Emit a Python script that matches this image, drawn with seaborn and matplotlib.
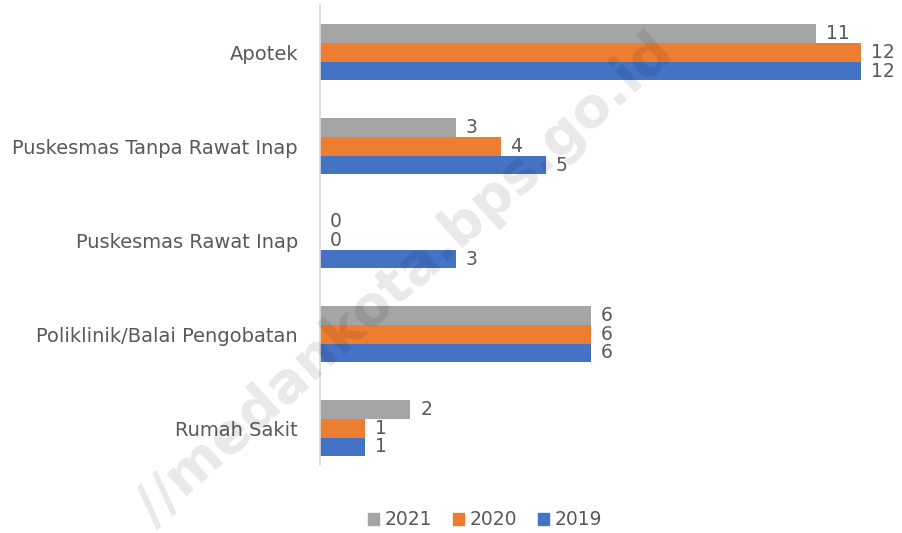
import pandas as pd
import matplotlib.pyplot as plt
import seaborn as sns

categories = ['Apotek', 'Puskesmas Tanpa Rawat Inap', 'Puskesmas Rawat Inap',
              'Poliklinik/Balai Pengobatan', 'Rumah Sakit']
years = ['2021', '2020', '2019']
val_2021 = [11, 3, 0, 6, 2]
val_2020 = [12, 4, 0, 6, 1]
val_2019 = [12, 5, 3, 6, 1]
colors = ['#A5A5A5', '#ED7D31', '#4472C4']

df = pd.DataFrame({
    'Fasilitas': categories * 3,
    'Tahun': [y for y in years for _ in categories],
    'Jumlah': val_2021 + val_2020 + val_2019,
})

sns.set_theme(style='white')
plt.rcParams['font.family'] = ['DejaVu Sans']
txt = '#595959'

fig = plt.figure(figsize=(9.02, 5.33), dpi=100)
ax = fig.add_axes([0.355, 0.128, 0.60, 0.862])

sns.barplot(data=df, y='Fasilitas', x='Jumlah', hue='Tahun', hue_order=years,
            palette=colors, width=0.6, orient='h', ax=ax, legend=False,
            saturation=1, errorbar=None, linewidth=0)

for cont in ax.containers:
    ax.bar_label(cont, padding=7, fontsize=13.5, color=txt)

ax.set_xlim(0, 12)
ax.set_ylim(4.39, -0.5)
ax.set_xlabel('')
ax.set_ylabel('')
ax.set_xticks([])
ax.tick_params(axis='y', length=0, pad=16, labelsize=14, labelcolor=txt)
for s in ['top', 'right', 'bottom']:
    ax.spines[s].set_visible(False)
ax.spines['left'].set_color('#D9D9D9')
ax.spines['left'].set_linewidth(1.2)

handles = [plt.Rectangle((0, 0), 1, 1, color=c) for c in colors]
fig.legend(handles, years, loc='lower center', bbox_to_anchor=(0.538, -0.025),
           ncol=3, frameon=False, fontsize=13.5, labelcolor=txt,
           handlelength=0.6, handleheight=0.6, handletextpad=0.3, columnspacing=1.1)

fig.text(0.449, 0.475, '//medankota.bps.go.id', rotation=42, ha='center', va='center',
         fontsize=40, fontweight='bold', color='black', alpha=0.09, zorder=10)

fig.savefig('out.png', dpi=100)
